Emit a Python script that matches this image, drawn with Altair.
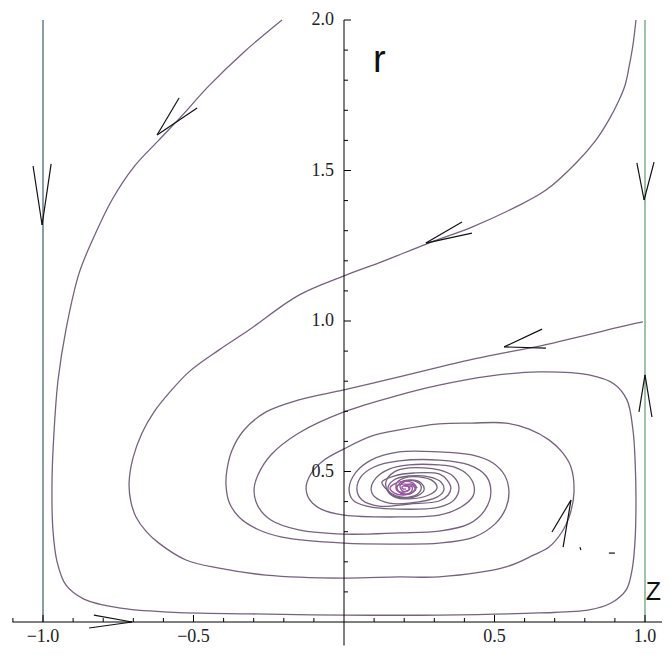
import altair as alt
import pandas as pd

# ---- trajectories (z, r) ----
curve_a_z = [-0.206, -0.332, -0.449, -0.542, -0.615, -0.698, -0.771, -0.831, -0.880, -0.924,
             -0.950, -0.963, -0.970, -0.967, -0.953, -0.924, -0.864, -0.748, -0.581, -0.316,
             0.0, 0.316, 0.648, 0.814, 0.887, 0.937, 0.957, 0.967, 0.970, 0.967,
             0.960, 0.940, 0.897, 0.814, 0.648, 0.482, 0.316, 0.183, 0.0, -0.150,
             -0.243, -0.286, -0.299, -0.286, -0.243, -0.150, 0.0, 0.183, 0.316, 0.415,
             0.468, 0.488, 0.472, 0.415, 0.316, 0.183, 0.100, 0.056, 0.043, 0.060,
             0.116, 0.216, 0.316, 0.346, 0.355, 0.342, 0.316, 0.233, 0.166, 0.126,
             0.143, 0.173, 0.216, 0.249, 0.256, 0.236, 0.206, 0.186, 0.196, 0.216, 0.213]
curve_a_r = [2.000, 1.894, 1.781, 1.678, 1.601, 1.512, 1.402, 1.279, 1.159, 0.970,
             0.804, 0.638, 0.472, 0.306, 0.199, 0.123, 0.076, 0.047, 0.033, 0.027,
             0.023, 0.023, 0.030, 0.040, 0.063, 0.106, 0.173, 0.272, 0.405, 0.538,
             0.638, 0.738, 0.791, 0.821, 0.831, 0.817, 0.787, 0.754, 0.698, 0.628,
             0.555, 0.488, 0.439, 0.385, 0.339, 0.306, 0.292, 0.296, 0.302, 0.326,
             0.372, 0.432, 0.485, 0.522, 0.538, 0.535, 0.515, 0.482, 0.439, 0.405,
             0.385, 0.392, 0.402, 0.422, 0.445, 0.472, 0.492, 0.495, 0.485, 0.465,
             0.439, 0.419, 0.415, 0.429, 0.452, 0.468, 0.468, 0.452, 0.435, 0.439, 0.452]

curve_b_z = [0.970, 0.960, 0.947, 0.934, 0.914, 0.880, 0.837, 0.771, 0.671, 0.571,
             0.425, 0.282, 0.116, 0.0, -0.150, -0.316, -0.415, -0.515, -0.581, -0.631,
             -0.671, -0.701, -0.714, -0.708, -0.691, -0.658, -0.615, -0.525, -0.415, -0.259,
             0.0, 0.183, 0.316, 0.538, 0.631, 0.681, 0.724, 0.748, 0.764, 0.754,
             0.724, 0.681, 0.615, 0.538, 0.425, 0.316, 0.183, 0.093, 0.0, -0.066,
             -0.110, -0.126, -0.113, -0.076, 0.0, 0.183, 0.316, 0.389, 0.429, 0.432,
             0.412, 0.365, 0.316, 0.216, 0.150, 0.106, 0.090, 0.103, 0.150, 0.216,
             0.309, 0.332, 0.322, 0.282, 0.216, 0.166, 0.146, 0.159, 0.199, 0.243,
             0.266, 0.256, 0.223, 0.186, 0.176, 0.196, 0.223, 0.226, 0.203]
curve_b_r = [2.000, 1.917, 1.844, 1.784, 1.734, 1.668, 1.601, 1.525, 1.435, 1.379,
             1.312, 1.259, 1.193, 1.150, 1.086, 0.970, 0.904, 0.831, 0.761, 0.698,
             0.628, 0.545, 0.462, 0.399, 0.349, 0.302, 0.262, 0.206, 0.179, 0.156,
             0.146, 0.150, 0.150, 0.183, 0.223, 0.249, 0.299, 0.349, 0.429, 0.515,
             0.565, 0.605, 0.641, 0.661, 0.661, 0.658, 0.638, 0.618, 0.575, 0.538,
             0.492, 0.445, 0.405, 0.375, 0.355, 0.349, 0.355, 0.382, 0.419, 0.452,
             0.488, 0.515, 0.522, 0.522, 0.508, 0.478, 0.442, 0.415, 0.395, 0.395,
             0.415, 0.439, 0.465, 0.482, 0.485, 0.472, 0.445, 0.422, 0.412, 0.419,
             0.439, 0.462, 0.472, 0.462, 0.442, 0.425, 0.432, 0.449, 0.452]

curve_c_z = [0.993, 0.914, 0.847, 0.748, 0.664, 0.532, 0.415, 0.316, 0.183, 0.0,
             -0.150, -0.259, -0.332, -0.372, -0.389, -0.392, -0.382, -0.349, -0.289, -0.206,
             0.0, 0.183, 0.316, 0.432, 0.502, 0.538, 0.548, 0.535, 0.495, 0.425,
             0.316, 0.183, 0.090, 0.040, 0.017, 0.030, 0.076, 0.183, 0.316, 0.365,
             0.382, 0.365, 0.316, 0.216, 0.166, 0.140, 0.143, 0.169, 0.216, 0.282,
             0.309, 0.296, 0.249, 0.199, 0.173, 0.183, 0.216, 0.239, 0.226, 0.199]
curve_c_r = [0.997, 0.980, 0.963, 0.940, 0.920, 0.894, 0.870, 0.847, 0.814, 0.771,
             0.738, 0.698, 0.638, 0.571, 0.505, 0.455, 0.399, 0.349, 0.309, 0.282,
             0.262, 0.259, 0.262, 0.282, 0.326, 0.379, 0.432, 0.485, 0.528, 0.555,
             0.565, 0.565, 0.538, 0.498, 0.445, 0.405, 0.385, 0.375, 0.382, 0.405,
             0.445, 0.482, 0.505, 0.512, 0.498, 0.468, 0.439, 0.415, 0.409, 0.422,
             0.445, 0.468, 0.482, 0.478, 0.458, 0.432, 0.425, 0.442, 0.458, 0.452]

core_z = [0.243, 0.229, 0.199, 0.166, 0.153, 0.166, 0.199, 0.229, 0.236, 0.223,
          0.199, 0.176, 0.173, 0.186, 0.209, 0.219, 0.206, 0.193, 0.196, 0.206]
core_r = [0.445, 0.462, 0.468, 0.458, 0.445, 0.429, 0.422, 0.432, 0.445, 0.455,
          0.458, 0.452, 0.442, 0.432, 0.435, 0.445, 0.452, 0.449, 0.442, 0.442]

# invariant lines z = -1 and z = 1
walls_z = [-1.0, 1.0]
wall_r_top = 2.0
wall_colors = ["#8c9ca8", "#9fc2aa"]

# hand-drawn arrow strokes (z1, r1) -> (z2, r2)
arrow_z1 = [-1.033, -0.973, -0.548, -0.488, 0.392, 0.425, 0.973, 1.030,
            0.658, 0.671, 0.980, 1.023, 0.691, 0.728, -0.831, -0.847, 0.784, 0.880]
arrow_r1 = [1.515, 1.522, 1.741, 1.708, 1.329, 1.292, 1.525, 1.528,
            0.973, 0.910, 0.698, 0.681, 0.299, 0.249, 0.023, -0.020, 0.249, 0.229]
arrow_z2 = [-1.003, -1.003, -0.621, -0.621, 0.272, 0.272, 0.997, 0.997,
            0.532, 0.532, 1.000, 1.000, 0.754, 0.754, -0.704, -0.704, 0.787, 0.900]
arrow_r2 = [1.319, 1.319, 1.618, 1.618, 1.259, 1.259, 1.402, 1.402,
            0.914, 0.914, 0.821, 0.821, 0.405, 0.405, 0.0, 0.0, 0.239, 0.229]

# axes
x_ticks = [-1.1, -1.0, -0.9, -0.8, -0.7, -0.6, -0.5, -0.4, -0.3, -0.2, -0.1,
           0.1, 0.2, 0.3, 0.4, 0.5, 0.6, 0.7, 0.8, 0.9, 1.0]
y_ticks = [0.1, 0.2, 0.3, 0.4, 0.5, 0.6, 0.7, 0.8, 0.9, 1.0,
           1.1, 1.2, 1.3, 1.4, 1.5, 1.6, 1.7, 1.8, 1.9, 2.0]
x_labels = ["\u22121.0", "\u22120.5", "0.5", "1.0"]
x_label_vals = [-1.0, -0.5, 0.5, 1.0]
y_labels = ["0.5", "1.0", "1.5", "2.0"]
y_label_vals = [0.5, 1.0, 1.5, 2.0]

# ---- layout ----
W, H = 654, 639
PPU = 301.0
X0 = -1.0 - 35 / PPU
X1 = X0 + W / PPU
Y1 = 2.0 + 12 / PPU
Y0 = Y1 - H / PPU
MAJ = 7 / PPU
MIN = 4 / PPU

xs = alt.Scale(domain=[X0, X1], nice=False, zero=False)
ys = alt.Scale(domain=[Y0, Y1], nice=False, zero=False)


def X(f="z"):
    return alt.X(f, type="quantitative", scale=xs, axis=None)


def Y(f="r"):
    return alt.Y(f, type="quantitative", scale=ys, axis=None)


rows = []
for name, zz, rr in [("A", curve_a_z, curve_a_r), ("B", curve_b_z, curve_b_r), ("C", curve_c_z, curve_c_r)]:
    for i, (a, b) in enumerate(zip(zz, rr)):
        rows.append({"curve": name, "i": i, "z": a, "r": b})
curves_df = pd.DataFrame(rows)
core_df = pd.DataFrame({"i": range(len(core_z)), "z": core_z, "r": core_r})

curves = alt.Chart(curves_df).mark_line(
    interpolate="catmull-rom", color="#76617e", strokeWidth=1.3
).encode(x=X(), y=Y(), detail="curve:N", order="i:Q")

core = alt.Chart(core_df).mark_line(
    interpolate="catmull-rom", color="#a54fae", strokeWidth=1.4
).encode(x=X(), y=Y(), order="i:Q")

walls_df = pd.DataFrame({"z": walls_z, "r0": [0.0, 0.0], "r1": [wall_r_top] * 2, "c": wall_colors})
walls = alt.Chart(walls_df).mark_rule(strokeWidth=2).encode(
    x=X(), y=Y("r0"), y2="r1", color=alt.Color("c:N", scale=None)
)

arrows_df = pd.DataFrame({"z1": arrow_z1, "r1": arrow_r1, "z2": arrow_z2, "r2": arrow_r2})
arrows = alt.Chart(arrows_df).mark_rule(color="#111111", strokeWidth=1.2).encode(
    x=X("z1"), y=Y("r1"), x2="z2", y2="r2"
)

axes_df = pd.DataFrame({"z1": [X0 + 0.015, 0.0], "r1": [0.0, Y0 + 0.005], "z2": [X1, 0.0], "r2": [0.0, 2.0]})
axes = alt.Chart(axes_df).mark_rule(color="#000000", strokeWidth=1).encode(
    x=X("z1"), y=Y("r1"), x2="z2", y2="r2"
)

xt_df = pd.DataFrame({"z": x_ticks, "r0": [0.0] * len(x_ticks),
                      "r1": [MAJ if abs(round(v * 10)) % 5 == 0 else MIN for v in x_ticks]})
xt = alt.Chart(xt_df).mark_rule(color="#000000", strokeWidth=1).encode(x=X(), y=Y("r0"), y2="r1")

yt_df = pd.DataFrame({"r": y_ticks, "z0": [0.0] * len(y_ticks),
                      "z1": [MAJ if round(v * 10) % 5 == 0 else MIN for v in y_ticks]})
yt = alt.Chart(yt_df).mark_rule(color="#000000", strokeWidth=1).encode(y=Y(), x=X("z0"), x2="z1")

xl_df = pd.DataFrame({"z": x_label_vals, "r": [0.0] * 4, "t": x_labels})
xl = alt.Chart(xl_df).mark_text(
    font="Liberation Serif", fontSize=18, color="#222222", baseline="middle", dy=15
).encode(x=X(), y=Y(), text="t:N")

yl_df = pd.DataFrame({"z": [0.0] * 4, "r": y_label_vals, "t": y_labels})
yl = alt.Chart(yl_df).mark_text(
    font="Liberation Serif", fontSize=18, color="#222222", baseline="middle", align="right", dx=-10
).encode(x=X(), y=Y(), text="t:N")

r_df = pd.DataFrame({"z": [0.096], "r": [1.827], "t": ["r"]})
r_lab = alt.Chart(r_df).mark_text(
    font="Liberation Sans", fontSize=38, color="#111111", baseline="alphabetic", align="left"
).encode(x=X(), y=Y(), text="t:N")

z_df = pd.DataFrame({"z": [X1], "r": [0.073], "t": ["Z"]})
z_lab = alt.Chart(z_df).mark_text(
    font="Liberation Sans", fontSize=25, color="#111111", baseline="alphabetic", align="right", dx=-1
).encode(x=X(), y=Y(), text="t:N")

chart = alt.layer(walls, curves, core, arrows, axes, xt, yt, xl, yl, r_lab, z_lab).properties(
    width=W, height=H, padding=0, autosize=alt.AutoSizeParams(type="none"), background="white"
).configure_view(stroke=None)

chart.save("out.html", embed_options={"renderer": "svg", "actions": False})
